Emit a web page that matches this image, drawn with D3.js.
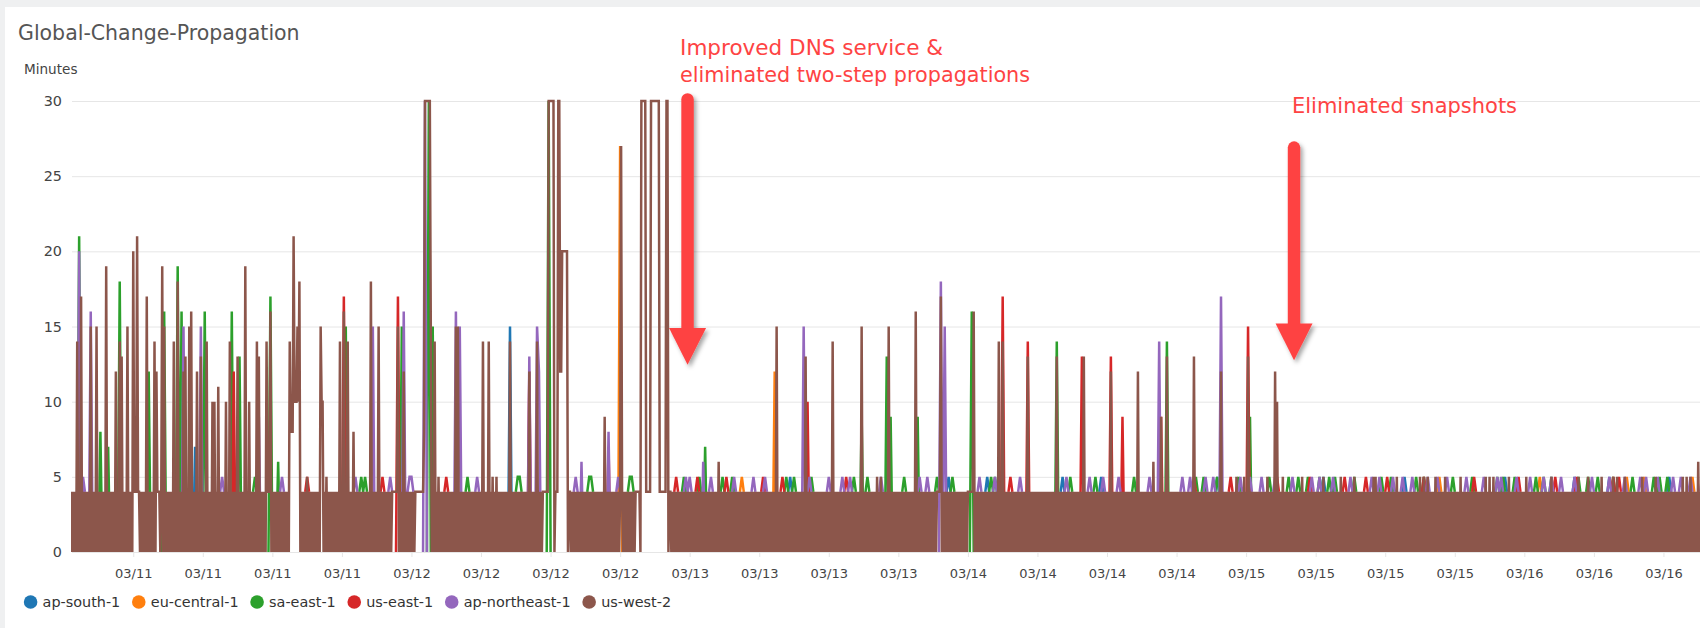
<!DOCTYPE html>
<html><head><meta charset="utf-8">
<script src="https://cdn.jsdelivr.net/npm/d3@7/dist/d3.min.js"></script>
<style>
html,body{margin:0;padding:0;background:#eff0f1;}
svg{display:block;font-family:"DejaVu Sans",sans-serif;}
</style></head><body>
<svg id="chart" width="1700" height="628"></svg>
<script>
// ---------------- data ----------------
const chartTitle = "Global-Change-Propagation";
const yLabel = "Minutes";
const seriesNames = ["ap-south-1","eu-central-1","sa-east-1","us-east-1","ap-northeast-1","us-west-2"];
const seriesColors = ["#1f77b4","#ff7f0e","#2ca02c","#d62728","#9467bd","#8c564b"];
const yTicks = [0,5,10,15,20,25,30];
const xTickFormat = "%m/%d";
const xDomain = [Date.UTC(2017,2,10,18,43), Date.UTC(2017,2,16,15,4)];
const blockStart = Date.UTC(2017,2,10,18,0);   // first 6-hour block
const blockHours = 6;
// Each string = one 6-hour block of evenly spaced samples (minutes, base-36 digit: 0-9, a=10 ... u=30).
// "." = hidden / not visible in the picture.
const usWest2 = [
"404040404040 40e040h04040 4040f04040f0 40404040j040 404040c040e0 d04040f04040",
"k444l4404040 40h0404040e0 c44404j0f040 404040e040i0 4040c0d040f0 g04040c040d0",
"4040e04040a0 a040b0404040 a040e0404040 d0404040j040 a0404040e0d0 404040e444g0",
"404040404040 404040e888la aafai0404040 504040404040 40faa0405040 4040404040e0",
"40g040e04040 804040404040 404040i04040 40f040404040 4040444444f0 4040c0404040",
"404044444444 48uuuuuuf040 e04050404040 4040404040f0 f04040404040 404040404040",
"40e04040e040 504050404040 404040e04040 404040404040 40c0404040e0 4040444444uu",
"uuuu0444uucc kkkkkk044040 404040404040 404040404040 404040409040 404040404040",
"4r4040404040 4040444440uu uuu44444uuuu uuuuu4444444 uu0440404040 404040404040",
"404040404040 404040404040 404040604040 404040404040 404040404040 404040404040",
"404040404040 404040f04040 404040404040 404040404040 d04040404040 404040404040",
"4040e0404040 404040404040 4040404040f0 404040404040 405040504040 40f040404040",
"404040404040 404040g04040 404040404040 40404444h040 404040404040 404040404040",
"444444g04040 404040404040 40404040e040 e04040404040 404040404040 40d040404040",
"404040404040 40404040d040 404040404040 404040404040 d04040404040 404040404040",
"4040c0404040 404040404040 40404040c040 404040404040 604040409040 40d040404040",
"404040404040 404040d04040 404040404040 4040404040c0 404040404040 405040404050",
"40d040404040 404040404050 404040c0a040 405040404040 404040404050 404040404040",
"404040405040 404040404040 405040404040 404050404040 404040404040 505040404040",
"404040404040 504040404040 404040404040 504050405040 404050404040 405040404040",
"404040504040 404040404040 404040405040 504050404040 404040405040 404040404040",
"405040404040 404040404040 404050404040 404040404040 404040405040 404040504040",
"404040405040 404040405040 504040405040 404040404040 405040404040 404050404040",
"404040404040 404040405040 504050404040 604040404040 404050404040 404040404040"];
const apNortheast1 = [
"...... .0k054 .0g0.. ...... ...... ......",
"...... ...... ...... ...... .0f0.. ....0f",
"0..... ...454 ...... ...... ....09 0.....",
"....45 4..... ...... ...... ...... ......",
"...... 454... ...0f0 ...... 454... .0g045",
"54.... 0u0... ...... ....0g 0f0... ...454",
"...... ...... ...... ...... 0d0.0f c0....",
"...... ...... 454060 ...... .....0 80..45",
"4..... ...... ...... ...... ...... ...454",
"54.... 060.45 4..... ....45 4..... ..454.",
"..454. ...... ...... ....0f 0454.. .....4",
"54.... 454.45 4..... ...... ..454. ......",
"...... ....45 4.454. ...0i0 f0.... ......",
".....4 54.... .454.. ...... ..454. ......",
"...... ...... ..454. ...... ..454. ...454",
".....4 54.... ...... ...454 ..0e0. ......",
"..454. 454... ..454. 454.0h 0..... ..454.",
".454.. .454.. ..454. .....4 54.... ...454",
".454.. ..454. .....4 54.... ....45 4.454.",
"...454 ..454. .454.. ...454 ..454. .454..",
".....4 54.... ..454. ...454 54.... .454..",
"..454. ...454 .454.. 454... .454.. ....45",
"4..... .454.. ...454 .....4 54454. ..454.",
"....45 4.454. .454.. .454.. ...454 ..454."];
const saEast1 = [
"...... .0l0.. ...... 080.07 0...0i 0.....",
"...... .0c0.. ...0g0 ....0j 0g0... ......",
"0g0... ...... ..0g0. 0d0... ..454. ....0h",
"0.060. ...... ...... ...... ...... ......",
".0f0.. ...454 54.... ...... ...... 0f0...",
"...... ..0u0f 0..... ...... ....45 4.....",
"...... ...... ...... 4554.. ...... ....0u",
"0..... ...... ...... .4554. ...... ......",
"....45 54.... ...... ...... ...... ..454.",
"....45 4070.. ....45 4..454 ...... ......",
"...... ...... .454.4 54.... ..454. ......",
"...... ...... 454.09 0454.. .....0 d090..",
"..454. ...090 ...... .454.. ...454 ......",
".0g0.. .....4 545454 ...... ...... ......",
"...... ...0e0 ....45 4..... .....4 54....",
"...... ...... .454.. ...... ...... 0e0...",
"...... ...454 .454.. ..454. ...... .454..",
".090.. .....4 54.... ...454 ..454. .454..",
".454.. 454454 ...... .454.. ...... ...454",
"..454. ...... ...454 .454.. ...... ....45",
"4..... ..454. ...... ...454 454... 454...",
".....4 54.454 .454.. ...... ...454 ..454.",
".454.. ...454 ...... .454.. ...... 454454",
".454.. ...... ...... ...454 ..454. ......"];
const usEast1 = [
"",
"",
"...... ...... ...0c0 ...... ...... ......",
"...... ...... .....4 54.... ...... ......",
"0h0... ...... ...... ..454. ....0h 0.....",
"...... ...... .....4 54.... ...... ......",
"...... ...... ...... ...... 0c0... ......",
"...... ...... ...... ...... .....0 70....",
"...... ...... ...... ...... ....45 4.....",
"...454 ...... ...... 454... ...... ......",
".454.. .....4 54.... ...... 0a0... ......",
"...... ..454. ...... ...... ...... ......",
"...... ...... ...... ...454 ...... ......",
"...... ...... .....0 h0.454 ...... 0e0...",
"...... ...... ...... ....0d 0..... ......",
".0d0.. .090.. ...... ...... ...090 ......",
"...... ..454. ...... ...... ...454 ......",
"0f0... ...... ...454 ...... ...... ..454.",
"...... ...... ..454. ...... .454.. ......",
"454... ...... ...... .454.. ...... ......",
"...... ...454 ...... ...... ...... ..454.",
"...... ...... ...454 ...... ..454. ......",
"...... ...454 454... ...... ...... ......",
"...... ...... ...... ...... ...... .454.."];
const apSouth1 = [
"",
"...... ...... ...... ...... ...... .070..",
"", "", "", "",
"...... ...... ..0f0. ...... ...... ......",
"", "", "",
"...... ...... ...454 ...... ...... ......",
"",
"...... ...... ...... ...... .454.. ......",
"...... ...454 ...... ...... ...... ......",
"...... ...... 454... ...... ...... ..454.",
"",
"...... ...... ...... ..454. ...... ......",
"",
"...454 ...... ...... ...... ...... ......",
"...... ...454 ...... ...... ...... ......",
"...... ...... ...... ...... .454.. ......",
"...... ...... ...... ...... .454.. ......",
"...... .454.. ...... ...... ...... ......",
"..454. ...... ...... ...... ...... ...454"];
const euCentral1 = [
"", "", "", "", "", "", "",
"...... ...... ...... ...... ...... .....0",
"r0.... ...... ...... ...... ...... ......",
"...... ...... ...... ...... ..454. ......",
"...... .0c0.. ...... ...... ...... ......",
"", "", "", "", "", "", "", "",
"...... ...... ...... ...... ...454 ......",
"",
"...... .454.. ...... ...... ...... ......",
"...... ...... ....45 4..... .454.. ......",
"...... ...... ..454. ...... ...... ......"];
const seriesBlocks = [apSouth1, euCentral1, saEast1, usEast1, apNortheast1, usWest2];

// annotations (time of arrow, minute values of arrow top / head base / tip)
const notes = [
  {lines:["Improved DNS service &","eliminated two-step propagations"], t:Date.UTC(2017,2,12,23,49), top:30.5, head:14.9, tip:12.45},
  {lines:["Eliminated snapshots"], t:Date.UTC(2017,2,15,4,8), top:27.3, head:15.2, tip:12.75}
];

// ---------------- parse ----------------
function parseBlocks(blocks){
  const pts = [];
  blocks.forEach((s,k)=>{
    const c = s.replace(/\s+/g,"");
    const t0 = blockStart + k*blockHours*3600e3;
    if(!c.length){ pts.push({t:new Date(t0), v:null}); return; }
    for(let j=0;j<c.length;j++){
      const ch = c[j];
      pts.push({t:new Date(t0 + j*blockHours*3600e3/c.length), v: ch==="." ? null : parseInt(ch,36)});
    }
  });
  return pts;
}
const series = seriesNames.map((name,i)=>({name, color:seriesColors[i], values:parseBlocks(seriesBlocks[i])}));

// ---------------- layout ----------------
const W = 1700, H = 628;
const plot = {left:72, right:1699, top:101, bottom:552};
const svg = d3.select("#chart");
svg.append("rect").attr("width",W).attr("height",H).attr("fill","#eff0f1");
svg.append("rect").attr("x",5).attr("y",7).attr("width",W-5).attr("height",H-7).attr("fill","#ffffff");

const x = d3.scaleUtc().domain(xDomain).range([plot.left, plot.right]);
const y = d3.scaleLinear().domain([0,30]).range([plot.bottom, plot.top]);

svg.append("text").attr("x",18).attr("y",40).attr("font-size",20.5).attr("fill","#555").text(chartTitle);
svg.append("text").attr("x",24).attr("y",74).attr("font-size",13.6).attr("fill","#444").text(yLabel);

// y axis + grid
const yAxis = svg.append("g").attr("transform",`translate(${plot.left},0)`)
  .call(d3.axisLeft(y).tickValues(yTicks).tickSize(-(plot.right-plot.left+1)).tickPadding(10).tickFormat(d3.format("d")));
yAxis.select(".domain").remove();
yAxis.selectAll(".tick line").attr("stroke","#e6e6e6");
yAxis.selectAll(".tick text").attr("font-size",14.4).attr("fill","#444").attr("font-family","DejaVu Sans");

// x axis
const xAxis = svg.append("g").attr("transform",`translate(0,${plot.bottom})`)
  .call(d3.axisBottom(x).ticks(d3.utcHour.every(6)).tickFormat(d3.utcFormat(xTickFormat)).tickSize(5));
xAxis.select(".domain").remove();
xAxis.selectAll(".tick line").attr("stroke","#e6e6e6");
xAxis.selectAll(".tick text").attr("dy",null).attr("y",26).attr("font-size",13).attr("fill","#444").attr("font-family","DejaVu Sans");

// lines
svg.append("clipPath").attr("id","clip").append("rect")
  .attr("x",plot.left-1).attr("y",plot.top-8).attr("width",plot.right-plot.left+3).attr("height",plot.bottom-plot.top+9);
const line = d3.line().defined(d=>d.v!==null).x(d=>x(d.t)).y(d=>y(d.v));
svg.append("g").attr("clip-path","url(#clip)").selectAll("path").data(series).join("path")
  .attr("d",d=>line(d.values)).attr("fill","none").attr("stroke",d=>d.color).attr("stroke-width",2.5);

// legend
const ly = 602;
let lx = 30.6;
const lg = svg.append("g");
series.forEach((s,i)=>{
  lg.append("circle").attr("cx",lx).attr("cy",ly).attr("r",6.8).attr("fill",s.color);
  const t = lg.append("text").attr("x",lx+12).attr("y",ly).attr("dy","0.35em").attr("font-size",14.4).attr("fill","#333").text(s.name);
  lx += 12 + t.node().getComputedTextLength() + 18.5;
});

// annotations
const defs = svg.append("defs");
const f = defs.append("filter").attr("id","shadow").attr("x","-50%").attr("y","-20%").attr("width","200%").attr("height","140%");
f.append("feDropShadow").attr("dx",2.5).attr("dy",3).attr("stdDeviation",2.2).attr("flood-color","#000").attr("flood-opacity",0.35);
const red = "#fe4343";
notes.forEach((n,i)=>{
  const ax = x(n.t);
  const g = svg.append("g").attr("filter","url(#shadow)");
  g.append("line").attr("x1",ax).attr("x2",ax).attr("y1",y(n.top)+6).attr("y2",y(n.head)+2)
    .attr("stroke",red).attr("stroke-width",12.5).attr("stroke-linecap","round");
  g.append("path").attr("d",`M${ax-18.5},${y(n.head)}L${ax+18.5},${y(n.head)}L${ax},${y(n.tip)}Z`).attr("fill",red);
});
const n0x = x(notes[0].t)-7.5;
svg.append("text").attr("x",n0x).attr("y",55).attr("font-size",21.5).attr("fill",red).attr("textLength",263).attr("lengthAdjust","spacingAndGlyphs").text(notes[0].lines[0]);
svg.append("text").attr("x",n0x).attr("y",82).attr("font-size",21.5).attr("fill",red).attr("textLength",350).attr("lengthAdjust","spacingAndGlyphs").text(notes[0].lines[1]);
svg.append("text").attr("x",x(notes[1].t)-2).attr("y",113).attr("font-size",21.5).attr("fill",red).attr("textLength",225).attr("lengthAdjust","spacingAndGlyphs").text(notes[1].lines[0]);
</script>
</body></html>
